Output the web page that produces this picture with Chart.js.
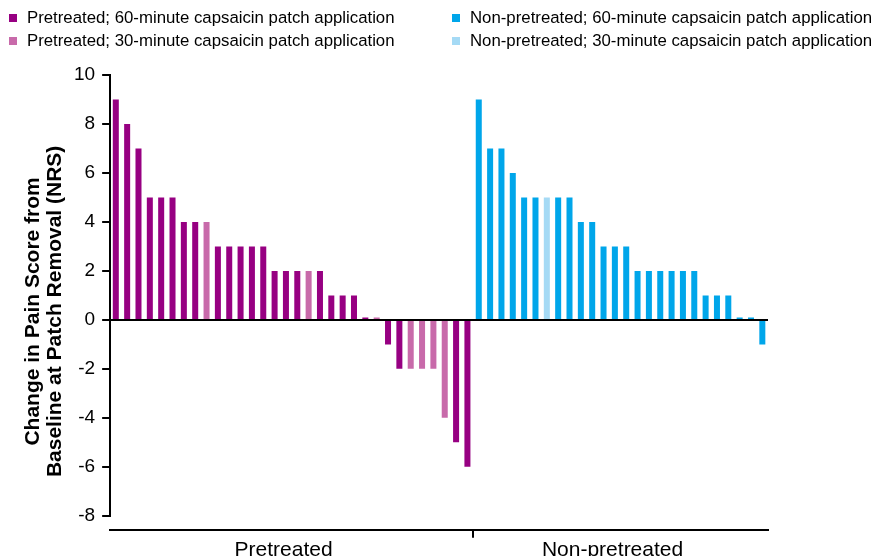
<!DOCTYPE html>
<html>
<head>
<meta charset="utf-8">
<script src="https://cdn.jsdelivr.net/npm/chart.js@4.4.1/dist/chart.umd.min.js"></script>
<style>
  html, body { margin: 0; padding: 0; background: #fff; }
  #wrap { position: relative; width: 875px; height: 556px; overflow: hidden; }
  #legend { position: absolute; left: 0; top: 0; width: 875px; height: 56px;
    font: 16.8px 'Liberation Sans', Arial, sans-serif; color: #000; }
  .item { position: absolute; height: 20px; line-height: 20px; display: flex; align-items: center; white-space: nowrap; }
  .item i { display: inline-block; width: 8px; height: 8px; margin-right: 10px; }
</style>
</head>
<body>
<div id="wrap">
  <canvas id="chart" width="875" height="556"></canvas>
  <div id="legend"></div>
</div>
<script>
const $ = (selector) => document.querySelector(selector);

const groups = ['Pretreated', 'Non-pretreated'];
const durations = [60, 30];

// change in NRS per patient, sorted as in the waterfall
const pretreatedChange = [9, 8, 7, 5, 5, 5, 4, 4, 4, 3, 3, 3, 3, 3, 2, 2, 2, 2, 2, 1, 1, 1, 0.1, 0.1, -1, -2, -2, -2, -2, -4, -5, -6];
const pretreatedMinutes = [60, 60, 60, 60, 60, 60, 60, 60, 30, 60, 60, 60, 60, 60, 60, 60, 60, 30, 60, 60, 60, 60, 60, 30, 60, 60, 30, 30, 30, 30, 60, 60];
const nonPretreatedChange = [9, 7, 7, 6, 5, 5, 5, 5, 5, 4, 4, 3, 3, 3, 2, 2, 2, 2, 2, 2, 1, 1, 1, 0.1, 0.1, -1];
const nonPretreatedMinutes = [60, 60, 60, 60, 60, 60, 30, 60, 60, 60, 60, 60, 60, 60, 60, 60, 60, 60, 60, 60, 60, 60, 60, 60, 60, 60];

const groupColors = [
  ['#970082', '#c86aaa'],
  ['#00a6ea', '#a5daf5'],
];

const yTitle = ['Change in Pain Score from', 'Baseline at Patch Removal (NRS)'];

const FONT = "'Liberation Sans', Arial, sans-serif";

const patients = [
  ...pretreatedChange.map((value, i) => ({ id: `P${i + 1}`, group: 0, value, minutes: pretreatedMinutes[i] })),
  ...nonPretreatedChange.map((value, i) => ({ id: `N${i + 1}`, group: 1, value, minutes: nonPretreatedMinutes[i] })),
];
const patientIds = patients.map((p) => p.id);
const groupSizes = groups.map((_, g) => patients.filter((p) => p.group === g).length);
const boundary = groupSizes[0];

const datasets = [];
groups.forEach((group, g) => {
  durations.forEach((minutes, d) => {
    datasets.push({
      label: `${group}; ${minutes}-minute capsaicin patch application`,
      data: patients.map((p) => (p.group === g && p.minutes === minutes ? p.value : null)),
      backgroundColor: groupColors[g][d],
      groupIdx: g,
      durationIdx: d,
    });
  });
});

// two-line rotated y title, drawn a bit below the plot centre like the original
const yTitlePlugin = {
  id: 'yTitle',
  afterDraw(chart) {
    const { ctx, chartArea } = chart;
    const cy = (chartArea.top + chartArea.bottom) / 2 + 16;
    ctx.save();
    ctx.fillStyle = '#000';
    ctx.font = `bold 21px ${FONT}`;
    ctx.textAlign = 'center';
    ctx.textBaseline = 'middle';
    yTitle.forEach((line, i) => {
      ctx.save();
      ctx.translate(chartArea.left - 77 + i * 22, cy);
      ctx.rotate(-Math.PI / 2);
      ctx.fillText(line, 0, 0);
      ctx.restore();
    });
    ctx.restore();
  },
};

const chart = new Chart($('#chart'), {
  type: 'bar',
  data: { labels: patientIds, datasets },
  plugins: [yTitlePlugin],
  options: {
    responsive: false,
    animation: false,
    layout: { padding: { left: 67, right: 107, top: 75, bottom: -7 } },
    datasets: {
      bar: { grouped: false, barPercentage: 0.53, categoryPercentage: 1 },
    },
    plugins: {
      legend: { display: false },
      tooltip: { enabled: false },
    },
    scales: {
      x: {
        ticks: { display: false },
        grid: { drawOnChartArea: false, color: 'transparent', tickLength: 14 },
        border: { display: false },
      },
      x2: {
        type: 'linear',
        position: 'bottom',
        weight: 1,
        offset: false,
        min: 0,
        max: patientIds.length,
        afterBuildTicks: (scale) => {
          scale.ticks = [
            { value: groupSizes[0] / 2 },
            { value: boundary },
            { value: boundary + groupSizes[1] / 2 },
          ];
        },
        ticks: {
          callback: (value) => {
            if (value === groupSizes[0] / 2) return groups[0];
            if (value === boundary + groupSizes[1] / 2) return groups[1];
            return '';
          },
          font: { family: FONT, size: 21 },
          color: '#000',
          padding: 0,
          labelOffset: -8,
          maxRotation: 0,
          autoSkip: false,
        },
        grid: {
          offset: false,
          drawOnChartArea: false,
          color: (ctx) => (ctx.tick && ctx.tick.value === boundary ? '#000' : 'transparent'),
          lineWidth: 2,
          tickLength: 8,
        },
        border: { color: '#000', width: 2 },
      },
      y: {
        min: -8,
        max: 10,
        z: 1,
        ticks: {
          stepSize: 2,
          font: { family: FONT, size: 19 },
          color: '#000',
          padding: 7,
        },
        grid: {
          color: (ctx) => (ctx.tick && ctx.tick.value === 0 ? '#000' : 'transparent'),
          lineWidth: 2,
          tickColor: '#000',
          tickLength: 8,
          tickWidth: 2,
        },
        border: { color: '#000', width: 2 },
      },
    },
  },
});

// legend: two columns (by group), two rows (by duration)
const legendX = [9, 452];
const legendY = [8, 31];
const legendEl = $('#legend');
chart.data.datasets.forEach((ds) => {
  const item = document.createElement('div');
  item.className = 'item';
  item.style.left = `${legendX[ds.groupIdx]}px`;
  item.style.top = `${legendY[ds.durationIdx]}px`;
  item.innerHTML = `<i style="background:${ds.backgroundColor}"></i><span>${ds.label}</span>`;
  legendEl.appendChild(item);
});
</script>
</body>
</html>
